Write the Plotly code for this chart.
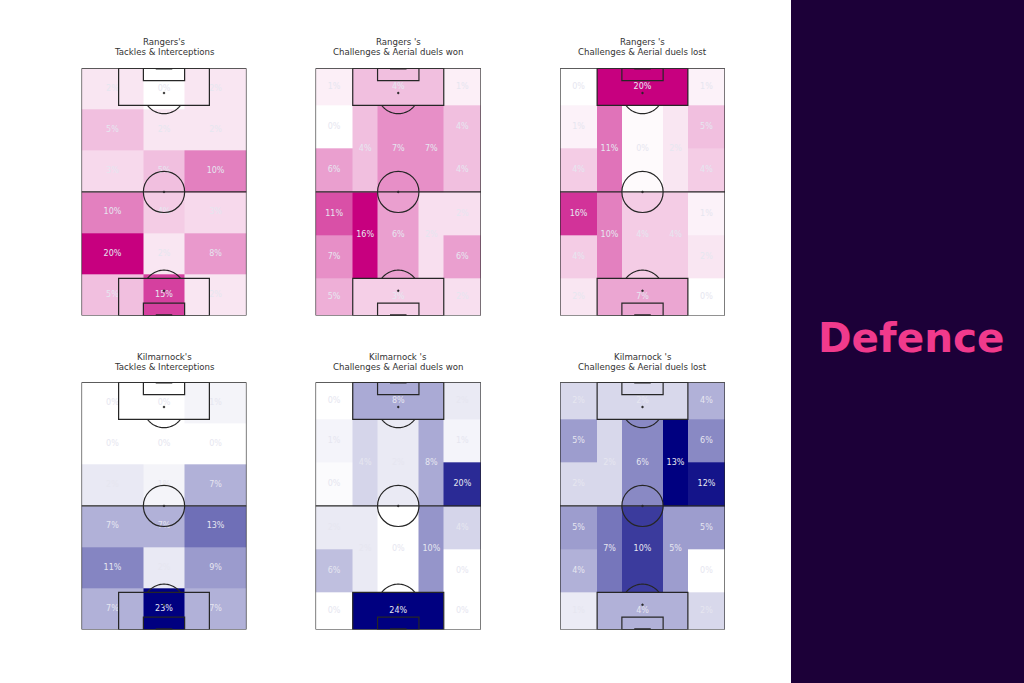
import numpy as np
import plotly.graph_objects as go

# ---------------- data ----------------
titles_line1 = ["Rangers's", "Rangers 's", "Rangers 's",
                "Kilmarnock's", "Kilmarnock 's", "Kilmarnock 's"]
titles_line2 = ["Tackles & Interceptions", "Challenges & Aerial duels won",
                "Challenges & Aerial duels lost", "Tackles & Interceptions",
                "Challenges & Aerial duels won", "Challenges & Aerial duels lost"]

# 3 x 6 grids (rows top -> bottom), values in %
rangers_tackles = [[2, 0, 2], [5, 2, 2], [3, 5, 10], [10, 4, 3], [20, 2, 8], [5, 15, 2]]
kilmarnock_tackles = [[0, 0, 1], [0, 0, 0], [2, 1, 7], [7, 7, 13], [11, 2, 9], [7, 23, 7]]

# positional-play zones (20 zones, order defined by POS_* below), values in %
rangers_won = [1, 4, 1, 0, 6, 4, 7, 7, 4, 4, 11, 7, 16, 6, 2, 2, 6, 5, 3, 2]
rangers_lost = [0, 20, 1, 1, 4, 11, 0.4, 2, 5, 4, 16, 4, 10, 4, 4, 1, 2, 2, 7, 0]
kilmarnock_won = [0, 8, 2, 1, 0.4, 4, 2, 8, 1, 20, 2, 6, 2, 0, 10, 4, 0, 0, 24, 0]
kilmarnock_lost = [2, 2, 4, 5, 2, 2, 6, 13, 6, 12, 5, 4, 7, 10, 5, 5, 0, 1, 4, 2]

panel_title = "Defence"

# ---------------- structure ----------------
GRID_X = [0, 30, 50, 80]
GRID_Y = [0, 20, 40, 60, 80, 100, 120]

POS_X0 = [0, 18, 62, 0, 0, 18, 30, 50, 62, 62, 0, 0, 18, 30, 50, 62, 62, 0, 18, 62]
POS_X1 = [18, 62, 80, 18, 18, 30, 50, 62, 80, 80, 18, 18, 30, 50, 62, 80, 80, 18, 62, 80]
POS_Y0 = [0, 0, 0, 18, 39, 18, 18, 18, 18, 39, 60, 81, 60, 60, 60, 60, 81, 102, 102, 102]
POS_Y1 = [18, 18, 18, 39, 60, 60, 60, 60, 39, 60, 81, 102, 102, 102, 102, 81, 102, 120, 120, 120]
FINE_X = [0, 18, 30, 50, 62, 80]
FINE_Y = [0, 18, 39, 60, 81, 102, 120]

PINK = "rgb(199,0,127)"
NAVY = "rgb(0,0,128)"

W, H = 1024, 683
cols_px = [(81.5, 246.5), (315.5, 481.0), (560.0, 725.0)]
rows_px = [(68.3, 315.5), (382.3, 629.5)]
title_y = [(42.3, 52.5), (356.7, 366.9)]

panels = [
    ("grid", rangers_tackles, PINK),
    ("pos", rangers_won, PINK),
    ("pos", rangers_lost, PINK),
    ("grid", kilmarnock_tackles, NAVY),
    ("pos", kilmarnock_won, NAVY),
    ("pos", kilmarnock_lost, NAVY),
]

fig = go.Figure()
shapes = []
annotations = []
LINE = "#262626"
TXT = "#E6E6F0"

for k, (kind, vals, col) in enumerate(panels):
    n = k + 1
    xa = "x" if n == 1 else f"x{n}"
    ya = "y" if n == 1 else f"y{n}"
    r, c = divmod(k, 3)
    if kind == "grid":
        z = np.array(vals, dtype=float)
        xe, ye = GRID_X, GRID_Y
        tx, ty, tt = [], [], []
        for i in range(6):
            for j in range(3):
                tx.append((xe[j] + xe[j + 1]) / 2)
                ty.append((ye[i] + ye[i + 1]) / 2)
                tt.append(f"{round(vals[i][j])}%")
    else:
        xe, ye = FINE_X, FINE_Y
        z = np.zeros((6, 5))
        for i in range(6):
            for j in range(5):
                cx = (xe[j] + xe[j + 1]) / 2
                cy = (ye[i] + ye[i + 1]) / 2
                for q in range(len(vals)):
                    if POS_X0[q] <= cx <= POS_X1[q] and POS_Y0[q] <= cy <= POS_Y1[q]:
                        z[i, j] = vals[q]
                        break
        tx = [(a + b) / 2 for a, b in zip(POS_X0, POS_X1)]
        ty = [(a + b) / 2 for a, b in zip(POS_Y0, POS_Y1)]
        tt = [f"{round(v)}%" for v in vals]
    zmax = float(np.max(z))
    fig.add_trace(go.Heatmap(
        x=xe, y=ye, z=z, zmin=0, zmax=zmax,
        colorscale=[[0, "white"], [1, col]], showscale=False,
        xaxis=xa, yaxis=ya, hoverinfo="skip"))
    fig.add_trace(go.Scatter(
        x=tx, y=ty, text=tt, mode="text",
        textfont=dict(family="DejaVu Sans", size=8, color=TXT),
        xaxis=xa, yaxis=ya, hoverinfo="skip", showlegend=False))

    x0p, x1p = cols_px[c]
    y0p, y1p = rows_px[r]
    axx = dict(domain=[x0p / W, x1p / W], range=[0, 80], anchor=ya,
               showgrid=False, zeroline=False, showticklabels=False, ticks="",
               fixedrange=True)
    axy = dict(domain=[1 - y1p / H, 1 - y0p / H], range=[120, 0], anchor=xa,
               showgrid=False, zeroline=False, showticklabels=False, ticks="",
               fixedrange=True)
    fig.update_layout(**{("xaxis" if n == 1 else f"xaxis{n}"): axx,
                         ("yaxis" if n == 1 else f"yaxis{n}"): axy})

    ln = dict(color=LINE, width=1.2)

    def rect(a, b, cc, d):
        shapes.append(dict(type="rect", xref=xa, yref=ya, x0=a, x1=b, y0=cc, y1=d,
                           line=ln, fillcolor="rgba(0,0,0,0)"))

    rect(0, 80, 0, 120)
    shapes.append(dict(type="line", xref=xa, yref=ya, x0=0, x1=80, y0=60, y1=60, line=ln))
    shapes.append(dict(type="circle", xref=xa, yref=ya, x0=30, x1=50, y0=50, y1=70, line=ln))
    rect(18, 62, 0, 18)
    rect(18, 62, 102, 120)
    rect(30, 50, 0, 6)
    rect(30, 50, 114, 120)
    for yy in (0, 120):
        shapes.append(dict(type="line", xref=xa, yref=ya, x0=36, x1=44, y0=yy, y1=yy,
                           line=dict(color=LINE, width=2.5)))
    for (sx, sy) in ((40, 12), (40, 108), (40, 60)):
        shapes.append(dict(type="circle", xref=xa, yref=ya, x0=sx - 0.45, x1=sx + 0.45,
                           y0=sy - 0.45, y1=sy + 0.45, line=dict(color=LINE, width=0.5),
                           fillcolor=LINE))
    # penalty arcs
    ang = np.linspace(np.arccos(0.8), np.pi - np.arccos(0.8), 30)
    for (cy, sgn) in ((12, 1), (108, -1)):
        px = 40 + 10 * np.cos(ang)
        py = cy + sgn * 10 * np.sin(ang)
        path = "M " + " L ".join(f"{a:.3f},{b:.3f}" for a, b in zip(px, py))
        shapes.append(dict(type="path", xref=xa, yref=ya, path=path, line=ln))

    cx_p = (x0p + x1p) / 2 / W
    for txt, yp in zip((titles_line1[k], titles_line2[k]), title_y[r]):
        annotations.append(dict(text=txt, x=cx_p, y=1 - yp / H, xref="paper", yref="paper",
                                xanchor="center", yanchor="middle", showarrow=False,
                                font=dict(family="DejaVu Sans", size=8.6, color="#333333")))

# right dark panel
shapes.append(dict(type="rect", xref="paper", yref="paper", x0=791 / W, x1=1, y0=0, y1=1,
                   fillcolor="#1C0038", line=dict(width=0), layer="below"))
annotations.append(dict(text="<b>" + panel_title + "</b>", x=910.5 / W, y=1 - 338 / H,
                        xref="paper", yref="paper", xanchor="center", yanchor="middle",
                        showarrow=False,
                        font=dict(family="DejaVu Sans", size=40.5, color="#F03A8C")))

fig.update_layout(width=W, height=H, margin=dict(l=0, r=0, t=0, b=0),
                  paper_bgcolor="white", plot_bgcolor="rgba(0,0,0,0)",
                  showlegend=False, shapes=shapes, annotations=annotations)

fig.write_html("out.html", config={"displayModeBar": False},
               post_script="document.body.style.margin='0';document.body.style.padding='0';")
